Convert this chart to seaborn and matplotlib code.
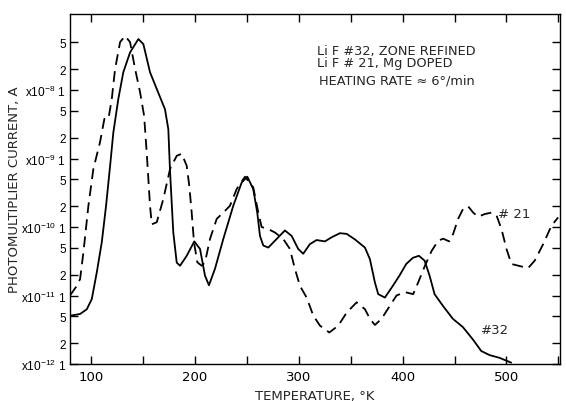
import numpy as np
import pandas as pd
import matplotlib
matplotlib.use("Agg")
import matplotlib.pyplot as plt
import seaborn as sns

# ---- data (temperature K, log10 of current A) ----
t32 = [80, 89.7, 96.2, 101, 105.8, 110.6, 114.7, 118.6, 121.7, 126.5, 131.3, 137.8,
       145.8, 150.6, 157, 163.5, 171.4, 174.6, 176.3, 179.4, 182.7, 185.9, 192.3,
       199.6, 205.1, 209.9, 213.7, 219.5, 227.5, 237.1, 245.2, 250.6, 256.3, 260.2,
       262.8, 266, 270.8, 278.8, 286.8, 293.3, 299.6, 304.4, 310.8, 317.3, 325.3,
       331.7, 339.7, 346.2, 354.1, 363.8, 368.6, 373.4, 376.6, 383, 390.6, 397,
       403.5, 409.9, 415.7, 421.2, 426, 430.8, 438.8, 448.4, 458, 467.6, 475.7,
       483.7, 493.3, 504.5]
l32 = [-11.295, -11.27, -11.20, -11.05, -10.66, -10.22, -9.69, -9.105, -8.62, -8.13,
       -7.74, -7.45, -7.255, -7.33, -7.74, -7.985, -8.28, -8.57, -9.20, -10.08,
       -10.52, -10.565, -10.42, -10.21, -10.32, -10.71, -10.85, -10.61, -10.175,
       -9.69, -9.35, -9.265, -9.445, -9.79, -10.13, -10.27, -10.30, -10.175, -10.05,
       -10.13, -10.32, -10.39, -10.25, -10.19, -10.21, -10.15, -10.09, -10.10,
       -10.18, -10.30, -10.47, -10.81, -10.98, -11.03, -10.86, -10.71, -10.54,
       -10.45, -10.42, -10.49, -10.71, -10.98, -11.15, -11.34, -11.46, -11.64,
       -11.81, -11.87, -11.91, -11.98]

t21 = [80, 86.5, 89.7, 92.9, 97.7, 102.5, 108.9, 113.1, 117, 120.2, 123.4, 128.2,
       133, 137.8, 142.6, 147.4, 151.3, 153.8, 157, 158.7, 163.5, 169.8, 176.3,
       182.7, 187.5, 192.3, 194.8, 197.1, 199.3, 202.5, 206.7, 209.9, 214.7, 221.2,
       227.5, 233.9, 240.4, 248.4, 256.3, 261.2, 264.4, 270.8, 277.2, 285.2, 291.6,
       296.4, 301.3, 307.7, 314, 320.5, 329.5, 338.1, 346.2, 355.8, 363.8, 368.6,
       373.4, 379.8, 387.8, 394.2, 402.2, 410.2, 415, 421.4, 427.9, 434.3, 439.1,
       444.9, 448.7, 453.5, 458.4, 463.2, 468, 472.8, 479.2, 485.6, 490.4, 495.2,
       500, 504.8, 512.8, 520.8, 527.2, 535.3, 543.3, 549.7]
l21 = [-11.0, -10.86, -10.76, -10.37, -9.69, -9.15, -8.76, -8.42, -8.42, -8.13,
       -7.69, -7.30, -7.21, -7.30, -7.69, -8.03, -8.375, -8.91, -9.69, -9.96, -9.93,
       -9.59, -9.15, -8.96, -8.93, -9.105, -9.40, -9.79, -10.22, -10.515, -10.565,
       -10.515, -10.175, -9.88, -9.79, -9.69, -9.445, -9.265, -9.42, -9.79, -10.0,
       -10.03, -10.08, -10.175, -10.32, -10.61, -10.86, -11.03, -11.29, -11.44,
       -11.54, -11.44, -11.25, -11.10, -11.20, -11.34, -11.43, -11.34, -11.15, -11.0,
       -10.95, -10.98, -10.81, -10.57, -10.35, -10.20, -10.17, -10.21, -10.10, -9.88,
       -9.73, -9.70, -9.79, -9.85, -9.81, -9.79, -9.83, -10.03, -10.32, -10.54,
       -10.57, -10.60, -10.49, -10.25, -9.98, -9.86]

x_major = [100, 200, 300, 400, 500]
x_minor = [150, 250, 350, 450, 550]
decades = [-12, -11, -10, -9, -8]

sns.set_style("ticks")
plt.rcParams['font.family'] = ['DejaVu Sans']
plt.rcParams['mathtext.fontset'] = 'custom'
plt.rcParams['mathtext.rm'] = 'Liberation Sans'
plt.rcParams['mathtext.it'] = 'Liberation Sans:italic'
plt.rcParams['mathtext.bf'] = 'Liberation Sans:bold'

fig = plt.figure(figsize=(5.66, 4.02), dpi=100)
ax = fig.add_axes([70/566, 37/402, 490/566, 350/402])

df32 = pd.DataFrame({"T": t32, "I": 10.0 ** np.array(l32)})
df21 = pd.DataFrame({"T": t21, "I": 10.0 ** np.array(l21)})
sns.lineplot(data=df32, x="T", y="I", ax=ax, color="black", lw=1.3,
             sort=False, estimator=None)
sns.lineplot(data=df21, x="T", y="I", ax=ax, color="black", lw=1.3,
             sort=False, estimator=None, dashes=False, linestyle=(0, (6, 3.5)))

ax.set_yscale("log")
ax.set_xlim(80, 551.5)
ax.set_ylim(1e-12, 1.29e-7)

yt, yl = [], []
for d in decades:
    yt += [10.0**d, 2*10.0**d, 5*10.0**d]
    yl += [r"x10$^{%d}$ 1" % d, "2", "5"]
ax.set_yticks(yt)
ax.set_yticklabels(yl, family="Liberation Sans")
ax.yaxis.set_minor_locator(matplotlib.ticker.NullLocator())
ax.set_xticks(x_major)
ax.set_xticks(x_minor, minor=True)
ax.tick_params(axis="both", which="both", direction="in", length=6, width=1,
               top=True, right=True, colors="black")
ax.tick_params(axis="x", labelsize=9.5, pad=4)
ax.tick_params(axis="y", labelsize=8.6, pad=3)
for s in ax.spines.values():
    s.set_color("black")
    s.set_linewidth(1)

ax.set_xlabel("TEMPERATURE, °K", fontsize=9.5, labelpad=5)
ax.set_ylabel("PHOTOMULTIPLIER CURRENT, A", fontsize=9.5)
ax.yaxis.set_label_coords(-0.1, 0.5)

ax.text(0.504, 0.879, "Li F #32, ZONE REFINED\nLi F # 21, Mg DOPED",
        transform=ax.transAxes, fontsize=9.3, va="center", ha="left",
        linespacing=0.95)
ax.text(0.508, 0.811, "HEATING RATE ≈ 6°/min", transform=ax.transAxes,
        fontsize=9.3, va="center", ha="left")
ax.text(491.5, 1.6e-10, "# 21", fontsize=9.5, va="center", ha="left")
ax.text(475.5, 3.2e-12, "#32", fontsize=9.5, va="center", ha="left")

fig.savefig("out.png", dpi=100)
